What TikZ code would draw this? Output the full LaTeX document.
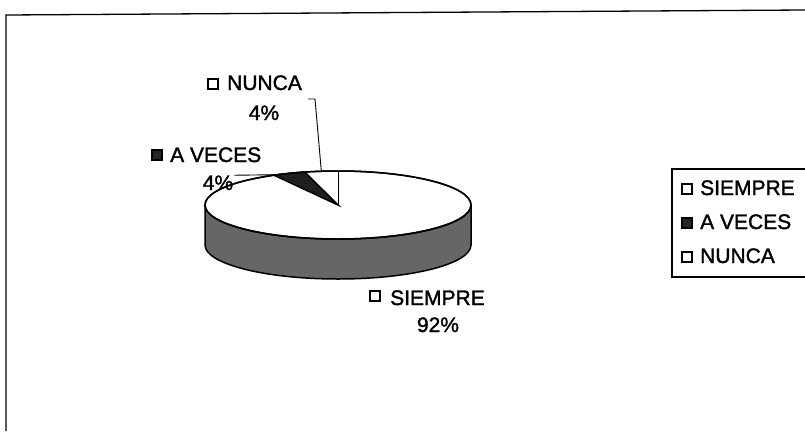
\documentclass[tikz,border=0pt]{standalone}
\usepackage{fontspec}
\setmainfont[FakeBold=1.5]{Liberation Sans}
\begin{document}
\begin{tikzpicture}[x=1pt,y=-1pt,
  font=\fontsize{21}{25}\selectfont,
  lbl/.style={inner sep=0pt, anchor=base west},
  pct/.style={inner sep=0pt, anchor=base},
  mkw/.style={draw=black, line width=1.4pt, fill=white, minimum size=10pt, inner sep=0pt},
  mkd/.style={draw=black, line width=1.4pt, fill=black!85, minimum size=10pt, inner sep=0pt},
  sidefill/.style={fill=black!60},
  darkfill/.style={fill=black!88},
  edge/.style={draw=black, line width=1.5pt},
  thin/.style={draw=black, line width=0.9pt}]
\useasboundingbox (0,0) rectangle (805,431);
% outer frame
\draw[line width=1.3pt] (6,431) -- (6,15) -- (805,10);

% pie
\coordinate (C) at (338,205);
\coordinate (Lb) at (205,245);
\coordinate (R) at (471,205);
\filldraw[sidefill, edge] (Lb) arc[start angle=180, end angle=360, x radius=133pt, y radius=34pt] -- (R) arc[start angle=0, end angle=-180, x radius=133pt, y radius=34pt] -- cycle;
\filldraw[fill=white, edge] (C) ellipse [x radius=133pt, y radius=34pt];
\coordinate (a1) at ([shift={(C)}]118.8:133pt and 34pt);
\coordinate (a3) at ([shift={(C)}]90:133pt and 34pt);
\filldraw[darkfill, edge] (C) -- (a1) arc[start angle=118.8, end angle=104.4, x radius=133pt, y radius=34pt] -- cycle;
\draw[thin] (C) -- (a3);
\draw[edge] (C) ellipse [x radius=133pt, y radius=34pt];

% slice label anchors
\coordinate (nun) at ([shift={(C)}]97.2:133pt and 34pt);
\coordinate (ave) at ([shift={(C)}]117:133pt and 34pt);
\coordinate (l1) at (308,99);

% labels on pie
\node[mkw] (mn) at (213,84) {};
\node[lbl] (tn) at (227,90) {NUNCA};
\node[pct] (pn) at (264,120) {4\%};
\node[mkd] (ma) at (157,155) {};
\node[lbl] (ta) at (170,162) {A VECES};
\node[pct] (pa) at (218,190) {4\%};
\node[mkw] (ms) at (375,296) {};
\node[lbl] (ts) at (390,305) {SIEMPRE};
\node[pct] (ps) at (438,332) {92\%};

% leaders
\draw[thin] (l1) -- ++(7,0) -- (nun);
\draw[thin] ([xshift=1pt]pa.north east) -- (ave);

% legend
\draw[line width=1.1pt] (805,169) -- (672,169) -- (672,277) -- (805,277);
\node[mkw] (lm1) at (687,189) {};
\node[lbl] (lt1) at (700,195) {SIEMPRE};
\node[mkd] (lm2) at (687,223) {};
\node[lbl] (lt2) at (700,229) {A VECES};
\node[mkw] (lm3) at (687,257) {};
\node[lbl] (lt3) at (700,263) {NUNCA};
\end{tikzpicture}
\end{document}
